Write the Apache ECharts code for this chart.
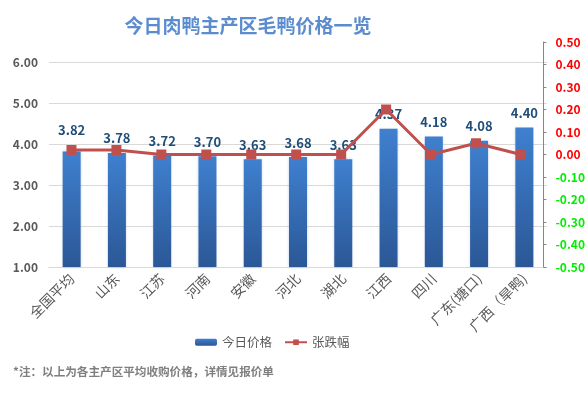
<!DOCTYPE html>
<html><head><meta charset="utf-8">
<script src="https://cdn.jsdelivr.net/npm/echarts@6/dist/echarts.min.js"></script>
<style>html,body{margin:0;padding:0;background:#fff}#c{width:588px;height:395px}</style>
</head><body><div id="c"></div>
<script>
var categories = ['全国平均','山东','江苏','河南','安徽','河北','湖北','江西','四川','广东(塘口)','广西（旱鸭)'];
var prices = [3.82,3.78,3.72,3.70,3.63,3.68,3.63,4.37,4.18,4.08,4.40];
var changes = [0.02,0.02,0.00,0.00,0.00,0.00,0.00,0.20,0.00,0.05,0.00];
var titleText = '今日肉鸭主产区毛鸭价格一览';
var noteText = '*注：以上为各主产区平均收购价格，详情见报价单';
var seriesNames = ['今日价格','张跌幅'];

var chart = echarts.init(document.getElementById('c'));
var F = 'Microsoft YaHei, "Noto Sans CJK SC", sans-serif';
var barData = prices.map(function(v,i){
  var d = {value:v};
  if(i===0){ d.label = {distance:15}; }
  return d;
});
chart.setOption({
  animation:false,
  backgroundColor:'#fff',
  title:[{text:titleText,left:243,top:11,textAlign:'center',
    textStyle:{fontFamily:F,fontSize:19,fontWeight:'bold',color:'#5b8ccf'}},
    {text:noteText,left:8,top:361,textStyle:{fontFamily:F,fontSize:11.6,fontWeight:'bold',color:'#7f7f7f'}}],
  legend:{data:[seriesNames[0],seriesNames[1]],left:190,top:331,itemWidth:22,itemHeight:7,itemGap:12,
    textStyle:{fontFamily:F,fontSize:12.5,color:'#595959'}},
  grid:[{left:49,right:41,top:62,bottom:128},{left:49,right:41,top:42,bottom:128}],
  xAxis:[{type:'category',gridIndex:0,data:categories,
      axisLine:{show:true,lineStyle:{color:'#d9d9d9'}},axisTick:{show:false},
      axisLabel:{rotate:45,interval:0,fontFamily:F,fontSize:14,color:'#595959',margin:9}},
    {type:'category',gridIndex:1,data:categories,show:false}],
  yAxis:[{type:'value',gridIndex:0,min:1,max:6,interval:1,
      axisLine:{show:false},axisTick:{show:false},
      splitLine:{lineStyle:{color:'#d9d9d9'}},
      axisLabel:{formatter:function(v){return v.toFixed(2);},fontFamily:F,fontSize:12,fontWeight:'bold',color:'#595959',margin:11}},
    {type:'value',gridIndex:1,position:'right',min:-0.5,max:0.5,interval:0.1,
      axisLine:{show:true,lineStyle:{color:'#868686'}},axisTick:{show:true,inside:false,length:3,lineStyle:{color:'#868686'}},
      splitLine:{show:false},
      axisLabel:{formatter:function(v){return v.toFixed(2);},fontFamily:F,fontSize:12,fontWeight:'bold',margin:12,
        color:function(v){return parseFloat(v)<-0.001?'#00ee00':'#ff0000';}}}],
  series:[{name:seriesNames[0],type:'bar',xAxisIndex:0,yAxisIndex:0,data:barData,barWidth:18,
      itemStyle:{color:new echarts.graphic.LinearGradient(0,0,0,1,[{offset:0,color:'#3f80cf'},{offset:1,color:'#2b5796'}]),
        shadowBlur:3,shadowColor:'rgba(70,120,200,0.35)'},
      label:{show:true,position:'top',distance:8,formatter:function(p){return p.value.toFixed(2);},
        fontFamily:F,fontSize:13,fontWeight:'bold',color:'#1f4e79'},z:2},
    {name:seriesNames[1],type:'line',xAxisIndex:1,yAxisIndex:1,data:changes,symbol:'rect',symbolSize:10,
      lineStyle:{color:'#c0504d',width:3},itemStyle:{color:'#c0504d'},z:3}]
});
</script></body></html>
